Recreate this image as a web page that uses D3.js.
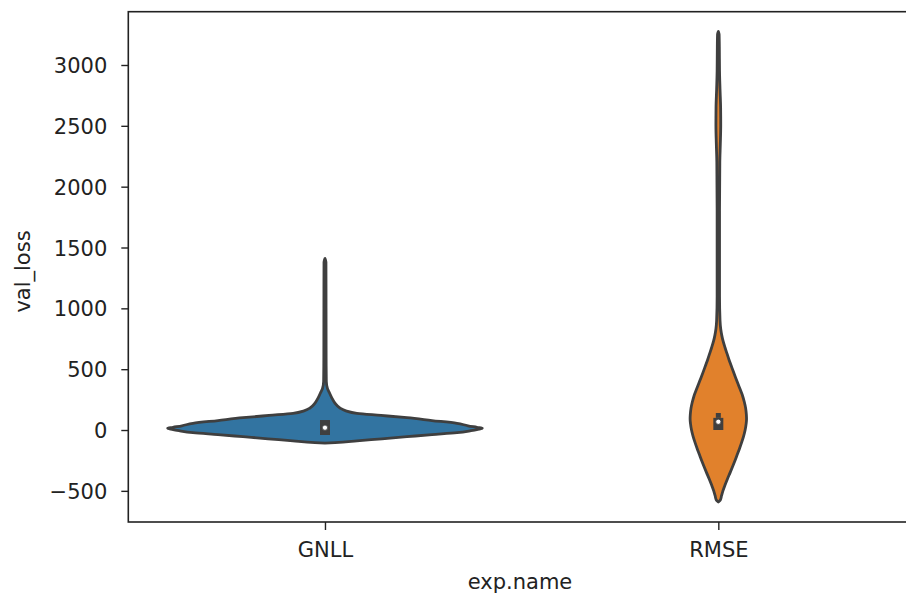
<!DOCTYPE html>
<html>
<head>
<meta charset="utf-8">
<script src="https://cdn.jsdelivr.net/npm/d3@7"></script>
<style>
  html, body { margin: 0; padding: 0; background: #fff; }
  svg { display: block; }
  text { font-family: "DejaVu Sans", sans-serif; fill: #222; }
</style>
</head>
<body>
<svg id="chart" width="906" height="601"></svg>
<script>
// ---- data ----
const categories = ["GNLL", "RMSE"];
const yTicks = [-500, 0, 500, 1000, 1500, 2000, 2500, 3000];

// kernel density profiles (val_loss grid, relative density)
const gnllLoss    = [-108, -104, -90, -72, -55, -38, -22, -5, 8, 14, 22, 35, 55, 78, 101, 120, 137, 158, 181, 220, 260, 304, 340, 400, 600, 1000, 1380, 1410];
const gnllDensity = [0, .064, .203, .362, .521, .68, .839, .928, .979, 1, .966, .909, .839, .68, .521, .356, .203, .133, .095, .064, .045, .029, .016, .0085, .0072, .0068, .0062, 0];

const rmseLoss    = [-592, -575, -540, -500, -450, -400, -350, -300, -250, -200, -150, -100, -50, 0, 50, 90, 130, 180, 230, 280, 330, 380, 430, 480, 530, 580, 630, 680, 730, 780, 830, 900, 1100, 1800, 2200, 2350, 2500, 2650, 2800, 2950, 3150, 3250, 3275];
const rmseDensity = [0, .0127, .0203, .0292, .0432, .0585, .075, .0909, .1062, .1208, .1354, .1488, .1608, .1704, .1767, .1793, .178, .1736, .1653, .1545, .14, .125, .11, .0954, .0814, .0674, .0547, .042, .0305, .0216, .0153, .0108, .0076, .0076, .0095, .0127, .0153, .0146, .0108, .0076, .0064, .0051, 0];

// inner box statistics
const q1Values     = [-41, 0];
const medianValues = [19, 68];
const q3Values     = [82, 100];
const whiskerHigh  = [82, 140];

const fillColors = ["#3274a1", "#e1812c"];

// ---- layout ----
const svg = d3.select("#chart");
const mLeft = 128.3, mRight = 915, mTop = 11.7, mBottom = 522;

const x = d3.scalePoint().domain(categories).range([mLeft, mRight]).padding(0.5);
const y = d3.scaleLinear().domain([-756, 3438]).range([mBottom, mTop]);
const w = d3.scaleLinear().domain([0, 1]).range([0, x.step() * 0.4]);

const gray = "#3f3f3f";

const profiles = [
  { cat: "GNLL", loss: gnllLoss, dens: gnllDensity },
  { cat: "RMSE", loss: rmseLoss, dens: rmseDensity }
];

const plot = svg.append("g");

profiles.forEach((p, i) => {
  const cx = x(p.cat);
  const pts = p.loss.map((v, k) => ({ v, d: p.dens[k] }));
  const area = d3.area()
    .y(d => y(d.v))
    .x0(d => cx - w(d.d))
    .x1(d => cx + w(d.d))
    .curve(d3.curveMonotoneY);
  plot.append("path")
    .attr("d", area(pts))
    .attr("fill", fillColors[i])
    .attr("stroke", gray)
    .attr("stroke-width", 2.8)
    .attr("stroke-linejoin", "round");

  // whisker
  plot.append("line")
    .attr("x1", cx).attr("x2", cx)
    .attr("y1", y(q3Values[i])).attr("y2", y(whiskerHigh[i]))
    .attr("stroke", gray).attr("stroke-width", 5);
  // box
  plot.append("line")
    .attr("x1", cx).attr("x2", cx)
    .attr("y1", y(q1Values[i])).attr("y2", y(q3Values[i]))
    .attr("stroke", gray).attr("stroke-width", 10);
  // median
  plot.append("circle")
    .attr("cx", cx).attr("cy", y(medianValues[i]))
    .attr("r", 2.6)
    .attr("fill", "#fff")
    .attr("stroke", gray).attr("stroke-width", 0.8);
});

// ---- axes ----
const yAxis = d3.axisLeft(y).tickValues(yTicks).tickSize(7).tickPadding(14)
  .tickFormat(d => d < 0 ? "\u2212" + Math.abs(d) : String(d));
const gy = svg.append("g").attr("transform", `translate(${mLeft},0)`).call(yAxis);
gy.select(".domain").remove();
gy.selectAll(".tick line").attr("stroke", "#222").attr("stroke-width", 1.4);
gy.selectAll(".tick text")
  .attr("font-size", 21)
  .attr("dy", null)
  .attr("y", 7.6)
  .attr("fill", "#222")
  .style("font-family", "'DejaVu Sans', sans-serif");

const xAxis = d3.axisBottom(x).tickSize(8).tickPadding(0);
const gx = svg.append("g").attr("transform", `translate(0,${mBottom})`).call(xAxis);
gx.select(".domain").remove();
gx.selectAll(".tick line").attr("stroke", "#222").attr("stroke-width", 1.4);
gx.selectAll(".tick text")
  .attr("font-size", 21)
  .attr("dy", null)
  .attr("y", 35)
  .attr("fill", "#222")
  .style("font-family", "'DejaVu Sans', sans-serif");

// frame
svg.append("rect")
  .attr("x", mLeft).attr("y", mTop)
  .attr("width", mRight - mLeft).attr("height", mBottom - mTop)
  .attr("fill", "none").attr("stroke", "#222").attr("stroke-width", 1.6);

// axis titles
svg.append("text")
  .attr("x", 520).attr("y", 589)
  .attr("text-anchor", "middle")
  .attr("font-size", 21)
  .text("exp.name");

svg.append("text")
  .attr("transform", "translate(30,271.5) rotate(-90)")
  .attr("text-anchor", "middle")
  .attr("font-size", 21)
  .text("val_loss");
</script>
</body>
</html>
